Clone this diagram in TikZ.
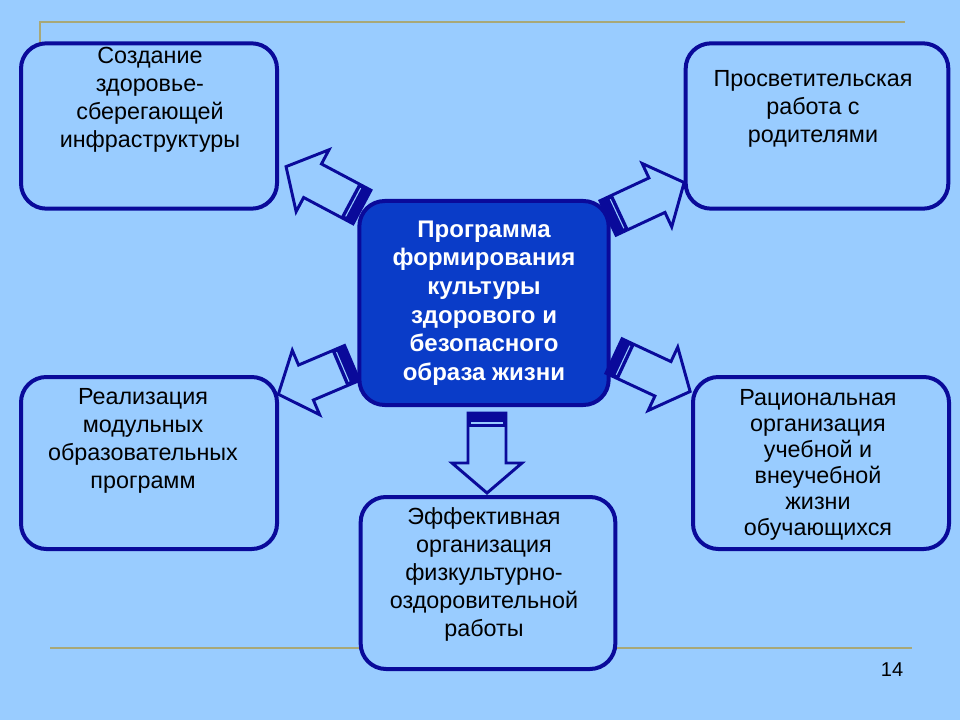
\documentclass[tikz,border=0pt]{standalone}
\usepackage{fontspec}
\setmainfont{Liberation Sans}
\definecolor{bg}{HTML}{99CCFF}
\definecolor{dk}{HTML}{0A0A9A}
\definecolor{ctr}{HTML}{0A3CC8}
\definecolor{gold}{HTML}{A8A878}
\tikzset{
 box/.style={draw=dk,line width=3pt,rounded corners=19pt,fill=bg},
 txt/.style={align=center,font=\fontsize{17.5}{21}\selectfont,text=black},
 ctxt/.style={align=center,font=\bfseries\fontsize{18}{21.5}\selectfont,text=white},
 arr/.style={draw=dk,line width=2.2pt,fill=bg,line join=miter}
}
\newcommand\barrow[3]{%
 \begin{scope}[shift={#1},rotate=#2]
  \draw[arr] (0,-19)--(#3-30,-19)--(#3-30,-35)--(#3,0)--(#3-30,35)--(#3-30,19)--(0,19)--cycle;
  \fill[dk] (0,-19) rectangle (14,19);
  \draw[bg,line width=0.8pt] (10,-16)--(10,16);
 \end{scope}}
\begin{document}
\begin{tikzpicture}[x=0.75pt,y=-0.75pt]
\fill[bg] (0,0) rectangle (960,720);
\useasboundingbox (0,0) rectangle (960,720);
\draw[gold,line width=2pt] (40,85)--(40,22)--(905,22);
\draw[gold,line width=2pt] (50,648)--(912,648);
\node[box,minimum width=192pt,minimum height=124pt] (tl) at (149,126) {};
\node[box,minimum width=197pt,minimum height=124pt] (tr) at (817,126) {};
\node[box,minimum width=192pt,minimum height=129pt] (ml) at (149,463) {};
\node[box,minimum width=192pt,minimum height=129pt] (mr) at (821,463) {};
\node[box,minimum width=191pt,minimum height=129pt] (bt) at (488,583) {};
\node[box,fill=ctr,minimum width=187pt,minimum height=153pt] (c) at (484,303) {};
\node[txt] (tlt) at (150,100) {Создание\\ здоровье-\\ сберегающей\\ инфраструктуры};
\node[txt] (trt) at (813,109) {Просветительская\\ работа с\\ родителями};
\node[txt] (mlt) at (143,441) {Реализация\\ модульных\\ образовательных\\ программ};
\node[txt,font=\fontsize{17.5}{19.5}\selectfont] (mrt) at (818,465) {Рациональная\\ организация\\ учебной и\\ внеучебной\\ жизни\\ обучающихся};
\node[txt] (btt) at (484,574) {Эффективная\\ организация\\ физкультурно-\\ оздоровительной\\ работы};
\node[ctxt] (ct) at (484,303) {Программа\\ формирования\\ культуры\\ здорового и\\ безопасного\\ образа жизни};
\barrow{(362,207)}{152}{86}
\barrow{(608,218)}{25}{84}
\barrow{(352,363)}{-157}{80}
\barrow{(614,356)}{-25}{84}
\barrow{(487,413)}{-90}{80}
\node[font=\fontsize{15}{16}\selectfont] (pg) at (892,670) {14};
\end{tikzpicture}
\end{document}
